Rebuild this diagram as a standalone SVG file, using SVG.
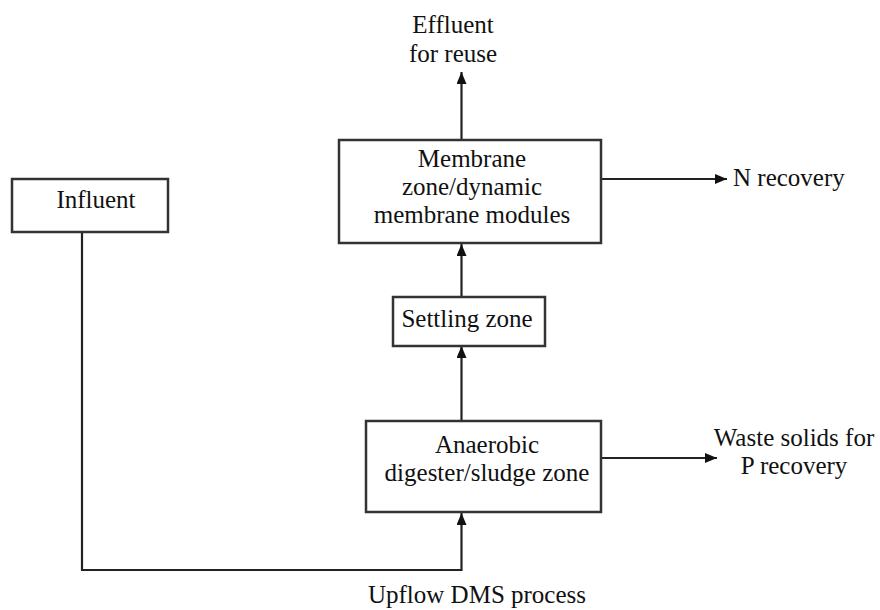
<svg xmlns="http://www.w3.org/2000/svg" width="880" height="610" viewBox="0 0 880 610">
  <defs>
    <marker id="arrow" viewBox="0 0 12 10" refX="12" refY="5" markerWidth="12" markerHeight="10" markerUnits="userSpaceOnUse" orient="auto">
      <path d="M0,0 L12,5 L0,10 Z" fill="#111"/>
    </marker>
    <style>
      .box { fill: #fff; stroke: #333; stroke-width: 2.5; }
      .line { fill: none; stroke: #222; stroke-width: 2.2; }
      .lbl { font-family: "Liberation Serif", "Times New Roman", serif; font-size: 25px; fill: #111; text-anchor: middle; }
      .lbl-start { text-anchor: start; }
    </style>
  </defs>

  <rect width="880" height="610" fill="#fff"/>

  <!-- connectors -->
  <g id="connectors">
    <line class="line" x1="461.5" y1="140" x2="461.5" y2="72" marker-end="url(#arrow)"/>
    <line class="line" x1="601" y1="179" x2="727" y2="179" marker-end="url(#arrow)"/>
    <line class="line" x1="461.5" y1="297" x2="461.5" y2="244" marker-end="url(#arrow)"/>
    <line class="line" x1="461.5" y1="421" x2="461.5" y2="346" marker-end="url(#arrow)"/>
    <line class="line" x1="601" y1="458" x2="717" y2="458" marker-end="url(#arrow)"/>
    <polyline class="line" points="82,232 82,570 461.5,570 461.5,513" marker-end="url(#arrow)"/>
  </g>

  <!-- nodes -->
  <g id="influent">
    <rect class="box" x="12" y="179" width="156" height="53"/>
    <text class="lbl" x="96" y="208">Influent</text>
  </g>

  <g id="membrane-zone">
    <rect class="box" x="339" y="140" width="262" height="103"/>
    <text class="lbl" x="472" y="167">Membrane</text>
    <text class="lbl" x="472" y="195">zone/dynamic</text>
    <text class="lbl" x="472" y="223">membrane modules</text>
  </g>

  <g id="settling-zone">
    <rect class="box" x="393" y="297" width="152" height="49"/>
    <text class="lbl" x="467" y="327">Settling zone</text>
  </g>

  <g id="anaerobic-digester">
    <rect class="box" x="366" y="421" width="235" height="91"/>
    <text class="lbl" x="487" y="453">Anaerobic</text>
    <text class="lbl" x="487" y="481">digester/sludge zone</text>
  </g>

  <g id="effluent">
    <text class="lbl" x="453" y="33">Effluent</text>
    <text class="lbl" x="453" y="62">for reuse</text>
  </g>

  <g id="n-recovery">
    <text class="lbl lbl-start" x="733" y="186">N recovery</text>
  </g>

  <g id="p-recovery">
    <text class="lbl" x="794" y="446">Waste solids for</text>
    <text class="lbl" x="794" y="474">P recovery</text>
  </g>

  <g id="caption">
    <text class="lbl" x="477" y="603">Upflow DMS process</text>
  </g>
</svg>
